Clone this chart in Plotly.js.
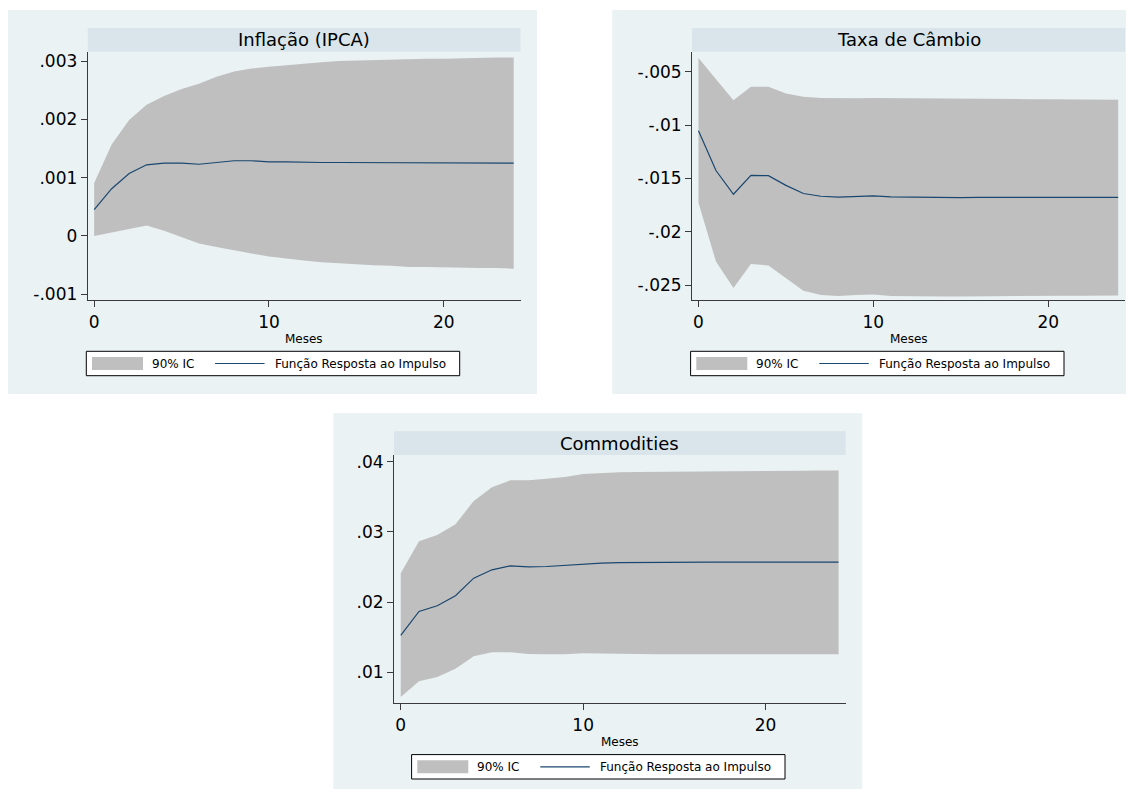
<!DOCTYPE html>
<html>
<head>
<meta charset="utf-8">
<script src="https://cdn.plot.ly/plotly-3.0.1.min.js"></script>
<style>
html,body{margin:0;padding:0;background:#ffffff;}
#chart{width:1130px;height:789px;}
</style>
</head>
<body>
<div id="chart"></div>
<script>
// ---------------- DATA ----------------
const months = [0,1,2,3,4,5,6,7,8,9,10,11,12,13,14,15,16,17,18,19,20,21,22,23,24];

const ipcaIrf   = [0.00045,0.00081,0.00107,0.00122,0.00125,0.00125,0.00123,0.00126,0.00129,0.00129,0.00127,0.00127,0.00126,0.00126,0.00126,0.00126,0.00125,0.00125,0.00125,0.00125,0.00125,0.00125,0.00125,0.00125,0.00125];
const ipcaUpper = [0.00091,0.00157,0.00199,0.00225,0.00240,0.00252,0.00261,0.00273,0.00282,0.00287,0.00290,0.00293,0.00295,0.00298,0.00300,0.00301,0.00302,0.00302,0.00303,0.00304,0.00304,0.00305,0.00305,0.00306,0.00306];
const ipcaLower = [0.00000,0.00006,0.00012,0.00018,0.00009,-0.00002,-0.00013,-0.00019,-0.00025,-0.00030,-0.00035,-0.00039,-0.00042,-0.00045,-0.00047,-0.00049,-0.00050,-0.00051,-0.00053,-0.00053,-0.00054,-0.00054,-0.00055,-0.00055,-0.00056];

const cambioIrf   = [-0.01054,-0.01427,-0.01649,-0.01472,-0.01475,-0.01566,-0.01642,-0.01668,-0.01677,-0.01671,-0.01665,-0.01674,-0.01677,-0.01680,-0.01680,-0.01680,-0.01679,-0.01679,-0.01679,-0.01679,-0.01679,-0.01679,-0.01679,-0.01679,-0.01679];
const cambioUpper = [-0.00371,-0.00569,-0.00768,-0.00642,-0.00642,-0.00705,-0.00736,-0.00746,-0.00749,-0.00749,-0.00746,-0.00748,-0.00750,-0.00752,-0.00753,-0.00754,-0.00755,-0.00756,-0.00757,-0.00758,-0.00759,-0.00760,-0.00761,-0.00762,-0.00763];
const cambioLower = [-0.01728,-0.02280,-0.02528,-0.02302,-0.02317,-0.02437,-0.02553,-0.02594,-0.02604,-0.02594,-0.02588,-0.02604,-0.02607,-0.02610,-0.02608,-0.02607,-0.02605,-0.02603,-0.02602,-0.02601,-0.02600,-0.02600,-0.02600,-0.02599,-0.02598];

const commIrf   = [0.01526,0.01867,0.01948,0.02090,0.02341,0.02460,0.02517,0.02502,0.02507,0.02521,0.02545,0.02555,0.02561,0.02564,0.02565,0.02566,0.02567,0.02568,0.02568,0.02568,0.02568,0.02568,0.02568,0.02568,0.02568];
const commUpper = [0.02412,0.02867,0.02957,0.03109,0.03441,0.03635,0.03735,0.03735,0.03758,0.03782,0.03825,0.03839,0.03848,0.03852,0.03855,0.03858,0.03862,0.03866,0.03868,0.03870,0.03871,0.03872,0.03872,0.03873,0.03873];
const commLower = [0.00649,0.00872,0.00934,0.01052,0.01227,0.01284,0.01284,0.01261,0.01256,0.01256,0.01270,0.01265,0.01261,0.01259,0.01258,0.01258,0.01258,0.01258,0.01258,0.01258,0.01258,0.01258,0.01257,0.01257,0.01256];

const panelTitles = ['Inflação (IPCA)', 'Taxa de Câmbio', 'Commodities'];
const xAxisTitle = 'Meses';
const legendLabels = ['90% IC', 'Função Resposta ao Impulso'];

const xTickVals = [0, 10, 20];
const xTickText = ['0', '10', '20'];
const ipcaTickVals = [-0.001, 0, 0.001, 0.002, 0.003];
const ipcaTickText = ['-.001', '0', '.001', '.002', '.003'];
const cambioTickVals = [-0.025, -0.02, -0.015, -0.01, -0.005];
const cambioTickText = ['-.025', '-.02', '-.015', '-.01', '-.005'];
const commTickVals = [0.01, 0.02, 0.03, 0.04];
const commTickText = ['.01', '.02', '.03', '.04'];

// ---------------- LAYOUT (pixels) ----------------
const W = 1130, H = 789;
const BG_W = 529, BG_H = 384;
const BG_COLOR = '#EAF2F3';
const STRIP_COLOR = '#D9E5EA';
const BAND_COLOR = '#BFBFBF';
const LINE_COLOR = '#1A476F';
const AXIS_COLOR = '#3a3a3a';
const FONT = 'DejaVu Sans';
const TICK_SIZE = 17;

const series = [
  {irf: ipcaIrf, lo: ipcaLower, hi: ipcaUpper, tv: ipcaTickVals, tt: ipcaTickText},
  {irf: cambioIrf, lo: cambioLower, hi: cambioUpper, tv: cambioTickVals, tt: cambioTickText},
  {irf: commIrf, lo: commLower, hi: commUpper, tv: commTickVals, tt: commTickText}
];

const panels = [
  {bgx: 8,     bgy: 10,    l: 87.7, r: 520.5, t: 51.7, b: 300.3, yr: [-0.001103, 0.00316]},
  {bgx: 612.3, bgy: 10,    l: 692,  r: 1125,  t: 51.7, b: 300.3, yr: [-0.026435, -0.003125]},
  {bgx: 333.3, bgy: 413.3, l: 394,  r: 845.7, t: 455,  b: 703.3, yr: [0.005584, 0.040954]}
];
const XR = [-0.37, 24.39];

const px = x => x / W;
const py = y => 1 - y / H;

const traces = [];
const shapes = [];
const annotations = [];
const layout = {
  width: W, height: H,
  margin: {l: 0, r: 0, t: 0, b: 0, pad: 0},
  paper_bgcolor: '#ffffff',
  plot_bgcolor: '#ffffff',
  showlegend: false,
  font: {family: FONT, color: '#000000'}
};

panels.forEach((p, i) => {
  const s = series[i];
  const xa = 'x' + (i ? i + 1 : '');
  const ya = 'y' + (i ? i + 1 : '');
  const xkey = 'xaxis' + (i ? i + 1 : '');
  const ykey = 'yaxis' + (i ? i + 1 : '');

  traces.push({x: months, y: s.lo, xaxis: xa, yaxis: ya, type: 'scatter', mode: 'lines',
    line: {width: 0, color: BAND_COLOR}, hoverinfo: 'skip', name: legendLabels[0]});
  traces.push({x: months, y: s.hi, xaxis: xa, yaxis: ya, type: 'scatter', mode: 'lines',
    line: {width: 0, color: BAND_COLOR}, fill: 'tonexty', fillcolor: BAND_COLOR, hoverinfo: 'skip', name: legendLabels[0]});
  traces.push({x: months, y: s.irf, xaxis: xa, yaxis: ya, type: 'scatter', mode: 'lines',
    line: {width: 1.2, color: LINE_COLOR}, hoverinfo: 'skip', name: legendLabels[1]});

  layout[xkey] = {
    domain: [px(p.l), px(p.r)], anchor: ya, range: XR,
    tickmode: 'array', tickvals: xTickVals, ticktext: xTickText,
    ticks: 'outside', ticklen: 6, tickwidth: 1, tickcolor: AXIS_COLOR,
    showline: true, linecolor: AXIS_COLOR, linewidth: 1,
    showgrid: false, zeroline: false, fixedrange: true,
    tickfont: {family: FONT, size: TICK_SIZE, color: '#000000'}
  };
  layout[ykey] = {
    domain: [py(p.b), py(p.t)], anchor: xa, range: p.yr,
    tickmode: 'array', tickvals: s.tv, ticktext: s.tt,
    ticks: 'outside', ticklen: 6, tickwidth: 1, tickcolor: AXIS_COLOR,
    showline: true, linecolor: AXIS_COLOR, linewidth: 1,
    showgrid: true, gridcolor: BG_COLOR, gridwidth: 1,
    zeroline: false, fixedrange: true,
    tickfont: {family: FONT, size: TICK_SIZE, color: '#000000'}
  };

  // panel background
  shapes.push({type: 'rect', xref: 'paper', yref: 'paper', layer: 'below',
    x0: px(p.bgx), x1: px(Math.min(p.bgx + BG_W, 1126)), y0: py(Math.min(p.bgy + BG_H, H + 2)), y1: py(p.bgy),
    fillcolor: BG_COLOR, line: {width: 0}});
  // title strip
  shapes.push({type: 'rect', xref: 'paper', yref: 'paper', layer: 'below',
    x0: px(p.l), x1: px(p.r), y0: py(p.t), y1: py(p.t - 23.7),
    fillcolor: STRIP_COLOR, line: {width: 0}});
  annotations.push({xref: 'paper', yref: 'paper', x: px((p.l + p.r) / 2), y: py(p.t - 11.9),
    xanchor: 'center', yanchor: 'middle', showarrow: false, text: panelTitles[i],
    font: {family: FONT, size: 18, color: '#000000'}});
  // x axis title
  annotations.push({xref: 'paper', yref: 'paper', x: px((p.l + p.r) / 2), y: py(p.bgy + 329),
    xanchor: 'center', yanchor: 'middle', showarrow: false, text: xAxisTitle,
    font: {family: FONT, size: 12, color: '#000000'}});

  // legend
  const lx = p.bgx, ly = p.bgy;
  shapes.push({type: 'rect', xref: 'paper', yref: 'paper', layer: 'above',
    x0: px(lx + 78.3), x1: px(lx + 451.7), y0: py(ly + 365.7), y1: py(ly + 341.3),
    fillcolor: '#ffffff', line: {width: 1, color: '#000000'}});
  shapes.push({type: 'rect', xref: 'paper', yref: 'paper', layer: 'above',
    x0: px(lx + 84), x1: px(lx + 135), y0: py(ly + 360), y1: py(ly + 347),
    fillcolor: BAND_COLOR, line: {width: 0}});
  shapes.push({type: 'line', xref: 'paper', yref: 'paper', layer: 'above',
    x0: px(lx + 207), x1: px(lx + 256.5), y0: py(ly + 353.5), y1: py(ly + 353.5),
    line: {width: 1.2, color: LINE_COLOR}});
  annotations.push({xref: 'paper', yref: 'paper', x: px(lx + 142), y: py(ly + 353.5),
    xanchor: 'left', yanchor: 'middle', showarrow: false, text: legendLabels[0],
    font: {family: FONT, size: 12, color: '#000000'}});
  annotations.push({xref: 'paper', yref: 'paper', x: px(lx + 265), y: py(ly + 353.5),
    xanchor: 'left', yanchor: 'middle', showarrow: false, text: legendLabels[1],
    font: {family: FONT, size: 12, color: '#000000'}});
});

layout.shapes = shapes;
layout.annotations = annotations;

Plotly.newPlot('chart', traces, layout, {displayModeBar: false, staticPlot: true});
</script>
</body>
</html>
